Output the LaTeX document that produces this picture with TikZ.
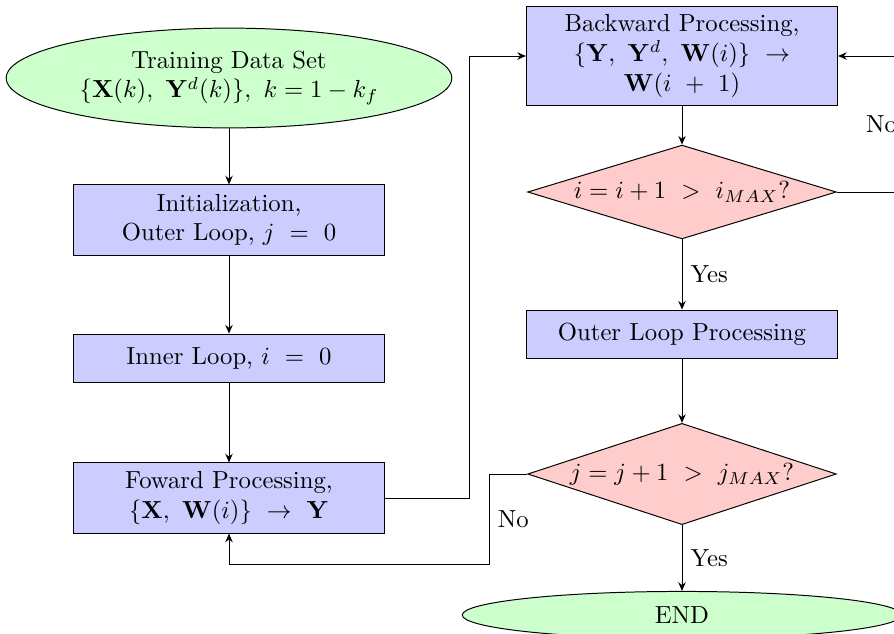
\documentclass[tikz,border=0pt]{standalone}
\usetikzlibrary{arrows.meta,shapes.geometric}
\usepackage{amsmath,amssymb}

\begin{document}
\begin{tikzpicture}[x=0.405pt, y=-0.405pt,
  procbox/.style={rectangle, draw, fill=blue!20, minimum width=126pt,
                  align=center, inner sep=3pt},
  decide/.style={diamond, draw, fill=red!20, aspect=3.2, inner sep=0pt,
                 minimum width=125pt, minimum height=38pt},
  termin/.style={ellipse, draw, fill=green!20, minimum width=178pt,
                 align=center},
  flow/.style={draw, -{Stealth[length=3.5pt,width=3pt]}}]
  \useasboundingbox (0,0) rectangle (894,633);
  \clip (0,0) rectangle (894,633);
  % left column
  \node[termin, minimum height=38pt] (data) at (229,78)
    {Training Data Set\\ $\{\mathbf{X}(k),\ \mathbf{Y}^d(k)\},\ k=1-k_f$};
  \node[procbox, minimum height=28.4pt] (init) at (229,220)
    {Initialization,\\ Outer Loop, $j\ =\ 0$};
  \node[procbox, minimum height=19.8pt] (inner) at (229,358.5)
    {Inner Loop, $i\ =\ 0$};
  \node[procbox, minimum height=28.4pt] (fwd) at (229,498)
    {Foward Processing,\\ $\{\mathbf{X},\ \mathbf{W}(i)\}\ \rightarrow\ \mathbf{Y}$};
  % right column
  \node[procbox, minimum height=40pt] (back) at (682,56)
    {Backward Processing,\\ $\{\mathbf{Y},\ \mathbf{Y}^d,\ \mathbf{W}(i)\}\ \rightarrow$\\ $\mathbf{W}(i\ +\ 1)$};
  \node[decide] (ilim) at (682,192) {$i = i+1\ >\ i_{MAX}$?};
  \node[procbox, minimum height=19.8pt] (outer) at (682,334.5)
    {Outer Loop Processing};
  \node[decide, minimum height=41pt] (jlim) at (682,474) {$j = j+1\ >\ j_{MAX}$?};
  \node[termin] (stop) at (682,615) {END};

  \draw[flow] (data) -- (init);
  \draw[flow] (init) -- (inner);
  \draw[flow] (inner) -- (fwd);
  \draw[flow] (fwd.east) -- ++(84,0) |- (back.west);
  \draw[flow] (back) -- (ilim);
  \draw[flow] (ilim) -- node[right] {Yes} (outer);
  \draw[flow] (ilim.east) -- ++(69,0) |- node[pos=0.25, left] {No} (back.east);
  \draw[flow] (outer) -- (jlim);
  \draw[flow] (jlim) -- node[right] {Yes} (stop);
  \draw[flow] (jlim.west) -- ++(-38,0) -- node[right] {No} ++(0,90) -| (fwd.south);
\end{tikzpicture}
\end{document}
